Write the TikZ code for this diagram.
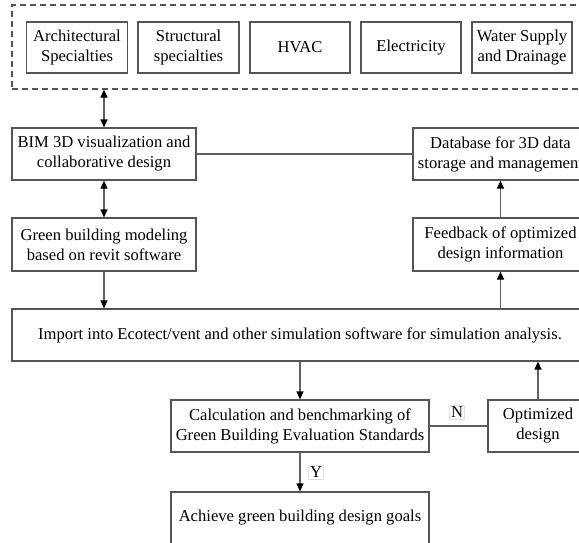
\documentclass[tikz,border=0pt]{standalone}
\usepackage{fontspec}
\setmainfont{Liberation Serif}
\usetikzlibrary{arrows.meta}
\definecolor{boxgray}{HTML}{555555}
\definecolor{linegray}{HTML}{606060}
\begin{document}
\begin{tikzpicture}[x=1pt,y=-1pt,
  box/.style={draw=boxgray, line width=1.2pt, fill=white, align=center, inner sep=0pt,
    font=\fontsize{16.6}{20}\selectfont},
  conn/.style={draw=linegray, line width=1.2pt},
  tip/.tip={Triangle[length=8pt,width=7pt,color=black]},
  arr/.style={conn, -tip},
  dbl/.style={conn, tip-tip},
  lab/.style={draw=gray!25, fill=white, inner sep=1.5pt, font=\fontsize{16.6}{20}\selectfont}
]
\useasboundingbox (0,0) rectangle (579,542);
% group of specialties
\node[draw=boxgray, dash pattern=on 6pt off 4pt, line width=1.2pt, inner sep=0pt,
      minimum width=575pt, minimum height=84pt] (group) at (299.5,47) {};
\node[box, minimum width=101pt, minimum height=51pt] (arch) at (77,47.5) {Architectural\\Specialties};
\node[box, minimum width=101pt, minimum height=51pt] (struct) at (188.5,47.5) {Structural\\specialties};
\node[box, minimum width=100pt, minimum height=51pt] (hvac) at (300,47.5) {HVAC};
\node[box, minimum width=100pt, minimum height=51pt] (elec) at (411,47.5) {Electricity};
\node[box, minimum width=100pt, minimum height=51pt] (water) at (522,47.5) {Water Supply\\and Drainage};
% left column
\node[box, minimum width=184pt, minimum height=52pt] (bim) at (104,154) {BIM 3D visualization and\\collaborative design};
\node[box, minimum width=184pt, minimum height=53pt] (green) at (104,244.5) {Green building modeling\\based on revit software};
% right column
\node[box, minimum width=175pt, minimum height=52pt] (db) at (500.5,154) {Database for 3D data\\storage and management};
\node[box, minimum width=175pt, minimum height=53pt] (fb) at (500.5,244.5) {Feedback of optimized\\design information};
% import
\node[box, minimum width=576pt, minimum height=52pt] (imp) at (300,335) {Import into Ecotect/vent and other simulation software for simulation analysis.};
% bottom
\node[box, minimum width=258pt, minimum height=52pt] (calc) at (300,426) {Calculation and benchmarking of\\Green Building Evaluation Standards};
\node[box, minimum width=100pt, minimum height=52pt] (opt) at (538,426) {Optimized\\design};
\node[box, minimum width=258pt, minimum height=52pt] (ach) at (300,518) {Achieve green building design goals};
% connectors
\draw[dbl] (group.south -| bim.north) -- (bim.north);
\draw[dbl] (bim.south) -- (green.north);
\draw[arr] (green.south) -- (green.south |- imp.north);
\draw[conn] (bim.east) -- (db.west);
\draw[arr] (imp.north -| fb.south) -- (fb.south);
\draw[arr] (fb.north) -- (db.south);
\draw[arr] (imp.south -| calc.north) -- (calc.north);
\draw[conn] (calc.east) -- (opt.west);
\draw[arr] (opt.north) -- (opt.north |- imp.south);
\draw[arr] (calc.south) -- (ach.north);
% labels
\node[lab] (n) at (457,412) {N};
\node[lab] (y) at (316,472) {Y};
\end{tikzpicture}
\end{document}
